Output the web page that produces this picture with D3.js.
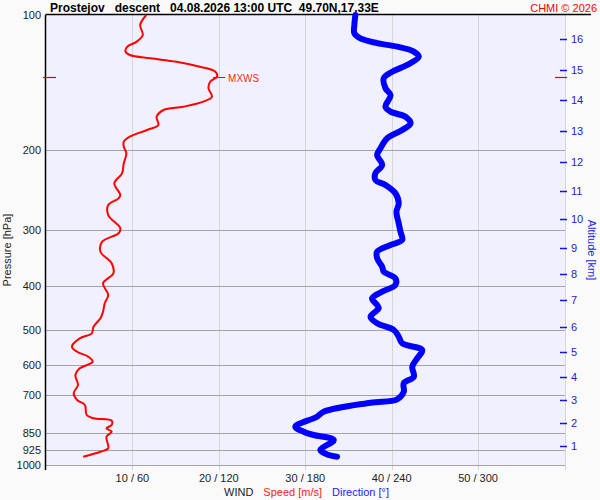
<!DOCTYPE html>
<html><head><meta charset="utf-8">
<script src="https://cdn.jsdelivr.net/npm/d3@7"></script>
<style>body{margin:0;background:#fafafa;}svg{display:block;font-family:"Liberation Sans",Arial,sans-serif;}</style>
</head><body>
<script>
// ---- data ----
const pressureTicks = [100, 200, 300, 400, 500, 600, 700, 850, 925, 1000];
const speedTicks = [10, 20, 30, 40, 50];
const speedTickLabels = ["10 / 60", "20 / 120", "30 / 180", "40 / 240", "50 / 300"];
const altitudeKm = [1, 2, 3, 4, 5, 6, 7, 8, 9, 10, 11, 12, 13, 14, 15, 16];
const altitudePressure = [907, 808, 717, 636, 560, 493, 430, 377, 329, 284, 246.5, 212, 181, 154.5, 132.7, 113.2];

const speedPressure = [100, 105.2, 110.8, 114.6, 117.6, 120.6, 122.7, 124.8, 127.0, 130.3, 133.7, 137.1, 140.7, 145.5, 151.9, 155.8, 159.9, 162.6, 168.3, 175.6, 180.1, 186.4, 191.2, 196.2, 203.0, 213.6, 224.8, 236.6, 251.2, 255.5, 264.4, 278.3, 297.8, 305.5, 318.9, 335.7, 356.3, 375.0, 394.7, 419.0, 437.2, 456.3, 472.1, 492.8, 509.7, 523.0, 546.0, 560.2, 574.7, 589.6, 609.9, 631.0, 664.1, 692.9, 717.0, 735.6, 774.3, 787.5, 797.3, 814.9, 828.8, 843.4, 865.2, 918.3, 934.2, 958.5];
const speedValues = [11.6, 10.9, 11.2, 10.5, 9.4, 9.2, 9.7, 12.1, 15.1, 17.8, 19.6, 19.8, 19.0, 18.8, 19.2, 18.2, 15.9, 13.6, 12.8, 13.0, 11.7, 9.7, 9.0, 9.0, 9.3, 9.0, 8.8, 7.9, 8.6, 8.4, 7.2, 7.2, 8.6, 8.4, 6.5, 6.3, 7.6, 7.8, 6.6, 7.2, 6.8, 6.6, 6.3, 5.5, 5.3, 3.9, 3.0, 3.6, 4.9, 5.4, 3.9, 3.4, 3.7, 3.2, 3.6, 4.5, 4.7, 5.5, 7.6, 7.6, 7.0, 7.6, 7.0, 7.2, 6.3, 4.3];

const dirPressure = [100, 105.2, 109.8, 112.7, 115.5, 117.6, 120.6, 123.8, 129.1, 133.7, 138.2, 145.5, 150.6, 159.9, 164.0, 168.3, 174.1, 180.1, 187.9, 197.8, 204.7, 215.4, 224.8, 232.6, 238.6, 249.0, 262.1, 273.6, 290.4, 303.0, 316.2, 324.4, 335.7, 347.3, 362.5, 371.9, 384.7, 398.1, 412.0, 426.3, 441.1, 448.6, 468.2, 484.3, 501.2, 518.7, 536.6, 555.4, 579.6, 604.6, 636.5, 658.3, 687.3, 714.5, 727.1, 761.4, 781.2, 822.0, 843.4, 857.7, 880.0, 926.3, 950.3, 958.5];
const dirValues = [214.8, 214.1, 214.1, 218.3, 229.9, 243.8, 255.4, 258.8, 250.8, 240.4, 234.5, 235.7, 239.2, 235.7, 239.2, 249.6, 253.1, 247.3, 236.9, 232.2, 229.9, 233.4, 228.7, 228.7, 235.7, 242.6, 244.9, 243.3, 244.9, 246.1, 247.3, 239.2, 229.9, 229.9, 233.4, 234.5, 242.6, 242.6, 233.4, 226.4, 229.9, 231.0, 225.3, 229.9, 241.5, 244.9, 247.3, 261.2, 257.7, 254.3, 255.4, 248.4, 248.4, 243.8, 225.3, 192.8, 188.2, 173.1, 178.9, 185.8, 199.8, 190.5, 196.3, 202.1];

const maxWindPressure = 137.5;
const titleText = "Prostejov   descent   04.08.2026 13:00 UTC  49.70N,17.33E";

// ---- layout ----
const W = 600, H = 500;
const L = 45.5, R = 565, T = 15, B = 465;

const svg = d3.select("body").append("svg").attr("width", W).attr("height", H);
svg.append("rect").attr("width", W).attr("height", H).attr("fill", "#fafafa");

const y = d3.scaleLog().domain([100, 1000]).range([T, B]);
const xs = d3.scaleLinear().domain([0, 60]).range([46, 564.5]);
const xd = d3.scaleLinear().domain([0, 360]).range([46, 564.5]);

svg.append("rect").attr("x", L).attr("y", T).attr("width", R - L).attr("height", B - T).attr("fill", "#f0f0ff");

// vertical grid
svg.append("g").selectAll("line").data(speedTicks.concat([60])).join("line")
  .attr("x1", d => Math.round(xs(d)) + 0.5).attr("x2", d => Math.round(xs(d)) + 0.5)
  .attr("y1", T).attr("y2", 470).attr("stroke", "#d6d6d6").attr("stroke-width", 1);

// horizontal grid
svg.append("g").selectAll("line").data(pressureTicks.slice(1)).join("line")
  .attr("x1", L).attr("x2", R).attr("y1", d => Math.round(y(d)) + 0.5).attr("y2", d => Math.round(y(d)) + 0.5)
  .attr("stroke", "#a4a4a4").attr("stroke-width", 1);

// axes lines
svg.append("line").attr("x1", L).attr("x2", L).attr("y1", T).attr("y2", 470).attr("stroke", "#000").attr("stroke-width", 1.5);
svg.append("line").attr("x1", L).attr("x2", 591).attr("y1", T - 0.5).attr("y2", T - 0.5).attr("stroke", "#000").attr("stroke-width", 1.5);

// left labels
svg.append("g").selectAll("text").data(pressureTicks).join("text")
  .attr("x", 41).attr("y", d => y(d) + 4).attr("text-anchor", "end")
  .attr("font-size", 11).attr("fill", "#222").text(d => d);

// bottom labels
svg.append("g").selectAll("text").data(speedTicks).join("text")
  .attr("x", d => xs(d)).attr("y", 482).attr("text-anchor", "middle")
  .attr("font-size", 11).attr("fill", "#222").text((d, i) => speedTickLabels[i]);

// right altitude axis
const alt = svg.append("g");
alt.selectAll("line").data(altitudeKm).join("line")
  .attr("x1", 560).attr("x2", 567).attr("y1", (d, i) => Math.round(y(altitudePressure[i])) + 0.5)
  .attr("y2", (d, i) => Math.round(y(altitudePressure[i])) + 0.5).attr("stroke", "#1515e0").attr("stroke-width", 1.5);
alt.selectAll("text").data(altitudeKm).join("text")
  .attr("x", 571).attr("y", (d, i) => y(altitudePressure[i]) + 4)
  .attr("font-size", 11).attr("fill", "#1a1ad8").text(d => d);

// axis titles
svg.append("text").attr("transform", "translate(11,250) rotate(-90)").attr("text-anchor", "middle")
  .attr("font-size", 11).attr("fill", "#222").text("Pressure [hPa]");
svg.append("text").attr("transform", "translate(588,250) rotate(90)").attr("text-anchor", "middle")
  .attr("font-size", 11).attr("fill", "#1a1ad8").text("Altitude [km]");

const bt = svg.append("text").attr("y", 496).attr("font-size", 11).attr("x", 224);
bt.append("tspan").attr("fill", "#222").text("WIND");
bt.append("tspan").attr("dx", 10).attr("fill", "#ff1a1a").text("Speed [m/s]");
bt.append("tspan").attr("dx", 10).attr("fill", "#1a1aff").text("Direction [°]");

// title
svg.append("text").attr("x", 50).attr("y", 12).attr("font-size", 12).attr("font-weight", "bold")
  .attr("fill", "#000").style("white-space", "pre").text(titleText);
svg.append("text").attr("x", 597).attr("y", 12).attr("text-anchor", "end").attr("font-size", 11)
  .attr("fill", "#ff0000").text("CHMI © 2026");

// curves
const speedLine = d3.line().x(d => xs(d[1])).y(d => y(d[0])).curve(d3.curveCatmullRom);
const dirLine = d3.line().x(d => xd(d[1])).y(d => y(d[0])).curve(d3.curveCatmullRom);

svg.append("path").datum(dirPressure.map((p, i) => [p, dirValues[i]]))
  .attr("d", dirLine).attr("fill", "none").attr("stroke", "#0000ff").attr("stroke-width", 6)
  .attr("stroke-linejoin", "round").attr("stroke-linecap", "round");

svg.append("path").datum(speedPressure.map((p, i) => [p, speedValues[i]]))
  .attr("d", speedLine).attr("fill", "none").attr("stroke", "#ff0000").attr("stroke-width", 2)
  .attr("stroke-linejoin", "round");

// MXWS markers
const ym = Math.round(y(maxWindPressure)) + 0.5;
const maxSpeed = d3.max(speedValues);
svg.append("line").attr("x1", 43).attr("x2", 56).attr("y1", ym).attr("y2", ym).attr("stroke", "#e00000").attr("stroke-width", 1.2);
svg.append("line").attr("x1", 555).attr("x2", 567).attr("y1", ym).attr("y2", ym).attr("stroke", "#e00000").attr("stroke-width", 1.2);
svg.append("line").attr("x1", xs(maxSpeed) - 4).attr("x2", xs(maxSpeed) + 8).attr("y1", ym).attr("y2", ym).attr("stroke", "#ff0000").attr("stroke-width", 1);
svg.append("rect").attr("x", xs(maxSpeed) + 10).attr("y", ym - 6).attr("width", 32).attr("height", 11).attr("fill", "#fafaff");
svg.append("text").attr("x", xs(maxSpeed) + 11).attr("y", ym + 4).attr("font-size", 10).attr("fill", "#ff2020").text("MXWS");
</script>
</body></html>
